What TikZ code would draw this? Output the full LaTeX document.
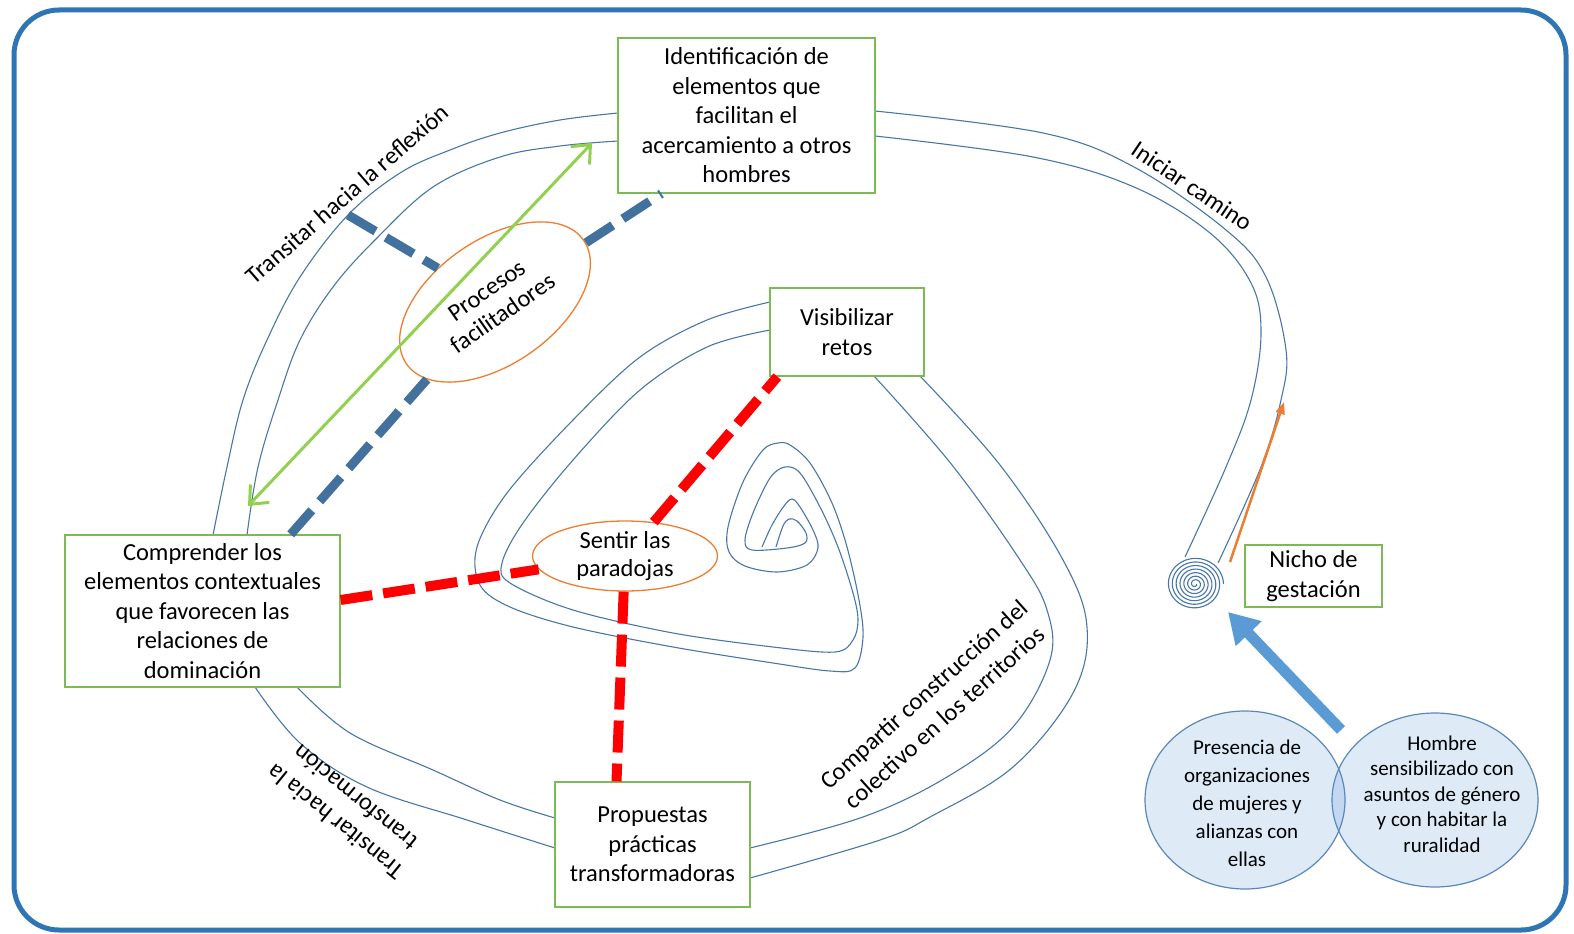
\documentclass[tikz,border=0pt]{standalone}
\usepackage{fontspec}
\setmainfont{Carlito}
\usetikzlibrary{shapes,arrows.meta,calc}
\definecolor{frameblue}{RGB}{46,117,182}
\definecolor{roadblue}{RGB}{72,118,168}
\definecolor{boxgreen}{RGB}{125,185,85}
\definecolor{ovalorange}{RGB}{237,125,49}
\definecolor{dashblue}{RGB}{65,113,156}
\definecolor{arrowgreen}{RGB}{146,208,80}
\definecolor{arrowblue}{RGB}{91,155,213}
\definecolor{vennfill}{RGB}{222,235,247}
\definecolor{vennmid}{RGB}{194,216,240}
\definecolor{vennline}{RGB}{90,135,185}

\begin{document}
\begin{tikzpicture}[x=1pt, y=-1pt,
      box/.style={rectangle, draw=boxgreen, fill=white, line width=1.3pt, align=center, inner sep=0pt, font=\fontsize{24.5}{29.5}\selectfont},
      oval/.style={ellipse, draw=ovalorange, fill=white, line width=1.3pt, align=center, inner sep=0pt, font=\fontsize{24.5}{28}\selectfont},
      road/.style={draw=roadblue, line width=1.1pt},
      tag/.style={align=center, font=\fontsize{24.5}{31}\selectfont},
      bluedash/.style={draw=dashblue, line width=9pt, dash pattern=on 32pt off 12pt},
      reddash/.style={draw=red, line width=10pt, dash pattern=on 32pt off 11pt},
      venn/.style={ellipse, draw=vennline, line width=1.2pt, inner sep=0pt},
      venntext/.style={align=center, font=\fontsize{21}{28}\selectfont},
      greenarrow/.style={{Straight Barb[length=15pt,width=26pt]}-{Straight Barb[length=15pt,width=26pt]}, draw=arrowgreen, line width=3pt},
      orangearrow/.style={-{Triangle[length=12pt,width=9pt]}, draw=ovalorange, line width=2.5pt},
      bigarrow/.style={-{Triangle[length=30pt,width=34pt]}, draw=arrowblue, line width=11pt}
    ]
      \useasboundingbox (0,0) rectangle (1574,934);
      \draw[frameblue, line width=5pt, rounded corners=45pt] (14,10) rectangle (1566,930);

      \draw[road] plot[smooth, tension=0.6] coordinates {(213,535) (227,467) (243,400) (267,340) (300,277) (348,215) (400,173) (450,150) (500,133) (560,120) (618,113)};
      \draw[road] plot[smooth, tension=0.6] coordinates {(247,535) (258,467) (278,400) (300,340) (333,287) (375,240) (433,187) (500,157) (560,146) (618,141)};
      \draw[road] plot[smooth, tension=0.6] coordinates {(875,111) (1043,133) (1134,167) (1226,230) (1266,277) (1286,350) (1281,400) (1261,467) (1218,563)};
      \draw[road] plot[smooth, tension=0.6] coordinates {(875,136) (1033,157) (1134,187) (1210,233) (1251,283) (1261,333) (1251,400) (1226,467) (1185,557)};
      \draw[road] plot[smooth, tension=0.6] coordinates {(255,687) (300,743) (367,787) (467,820) (555,848)};
      \draw[road] plot[smooth, tension=0.6] coordinates {(297,687) (350,733) (433,770) (500,800) (555,818)};
      \draw[road] plot[smooth, tension=0.6] coordinates {(750,878) (880,840) (930,817) (1013,767) (1073,693) (1087,627) (1063,560) (1000,465) (920,376)};
      \draw[road] plot[smooth, tension=0.6] coordinates {(750,848) (863,817) (947,777) (1013,727) (1050,660) (1047,610) (1020,560) (952,465) (874,376)};
      \draw[road] plot[smooth, tension=0.55] coordinates {(770,302) (707,320) (640,357) (573,420) (507,493) (477,547) (480,585) (510,607) (573,627) (673,647) (773,663) (830,671) (855,668) (863,637) (859,600) (847,547) (832,503) (810,463) (790,445) (778,443) (763,450) (743,482) (728,527) (729,552) (745,566) (777,572) (807,565) (818,548) (813,530) (800,507) (792,499) (784,506) (772,525) (762,547)};
      \draw[road] plot[smooth, tension=0.55] coordinates {(770,330) (707,347) (640,390) (573,460) (523,523) (502,563) (510,583) (573,610) (673,633) (773,647) (835,652) (853,640) (858,620) (853,593) (838,547) (820,507) (800,473) (785,467) (770,478) (753,513) (745,540) (752,550) (787,548) (805,543) (806,533) (797,521) (789,519) (783,526) (776,547)};
      \draw[road] plot[domain=0:2520, samples=360, variable=\t] ({1195+(1.5+27*(\t/2520))*cos(\t)}, {584+(1.5+25*(\t/2520))*sin(\t)});

      \node[box, minimum width=257pt, minimum height=155pt] (ident) at (746.5,115.5) {Identificación de\\elementos que\\facilitan el\\acercamiento a otros\\hombres};
      \node[box, minimum width=154pt, minimum height=88pt] (visi) at (847,332) {Visibilizar\\retos};
      \node[box, minimum width=275pt, minimum height=152pt] (comp) at (202.5,611) {Comprender los\\elementos contextuales\\que favorecen las\\relaciones de\\dominación};
      \node[box, minimum width=195pt, minimum height=125pt] (prop) at (652.5,844.5) {Propuestas\\prácticas\\transformadoras};
      \node[box, minimum width=137pt, minimum height=62pt] (nicho) at (1313.5,576) {Nicho de\\gestación};

      \node[oval, rotate=35, minimum width=216pt, minimum height=124pt] (proc) at (495,302) {Procesos\\facilitadores};
      \node[oval, inner ysep=-10pt, minimum width=185pt, minimum height=70pt] (sentir) at (625,556) {Sentir las\\paradojas};

      \coordinate (refl) at (348,215);
      \draw[bluedash] ($(comp.north east)+(-50,0)$) -- (proc);
      \draw[bluedash] (proc) -- ($(ident.south west)+(44,0)$);
      \draw[bluedash] (refl) -- (proc);

      \draw[reddash] ($(comp.east)+(0,-11)$) -- (sentir);
      \draw[reddash] (sentir) -- ($(visi.south west)+(8,0)$);
      \draw[reddash] (sentir) -- ($(prop.north)+(-36,0)$);

      \coordinate (greenlow) at (248,506);
      \coordinate (greenhigh) at (592,143);
      \draw[greenarrow] (greenlow) -- (greenhigh);

      \coordinate (climbstart) at (1230,562);
      \coordinate (climbend) at (1284,402);
      \draw[orangearrow] (climbstart) -- (climbend);

      \node[tag, rotate=41] (lblrefl) at (347,194) {Transitar hacia la reflexión};
      \node[tag, rotate=-34] (lblcamino) at (1192,186) {Iniciar camino};
      \node[tag, rotate=42] (lblcompartir) at (934,706) {Compartir construcción del\\colectivo en los territorios};
      \node[tag, rotate=141] (lbltransf) at (345,810) {Transitar hacia la\\transformación};

      \fill[vennfill] (1245,800) ellipse [x radius=100pt, y radius=89pt];
      \fill[vennfill] (1435,800) ellipse [x radius=103pt, y radius=87pt];
      \begin{scope}
        \clip (1245,800) ellipse [x radius=100pt, y radius=89pt];
        \fill[vennmid] (1435,800) ellipse [x radius=103pt, y radius=87pt];
      \end{scope}
      \node[venn, minimum width=200pt, minimum height=178pt] (pres) at (1245,800) {};
      \node[venn, minimum width=206pt, minimum height=174pt] (hom) at (1435,800) {};
      \node[venntext] (prestxt) at (1247,803) {Presencia de\\organizaciones\\de mujeres y\\alianzas con\\ellas};
      \node[venntext, font=\fontsize{21}{25.5}\selectfont] (homtxt) at (1442,794) {Hombre\\sensibilizado con\\asuntos de género\\y con habitar la\\ruralidad};

      \coordinate (venntop) at (1341,730);
      \coordinate (nesttip) at (1228,612);
      \draw[bigarrow] (venntop) -- (nesttip);
    \end{tikzpicture}
\end{document}
